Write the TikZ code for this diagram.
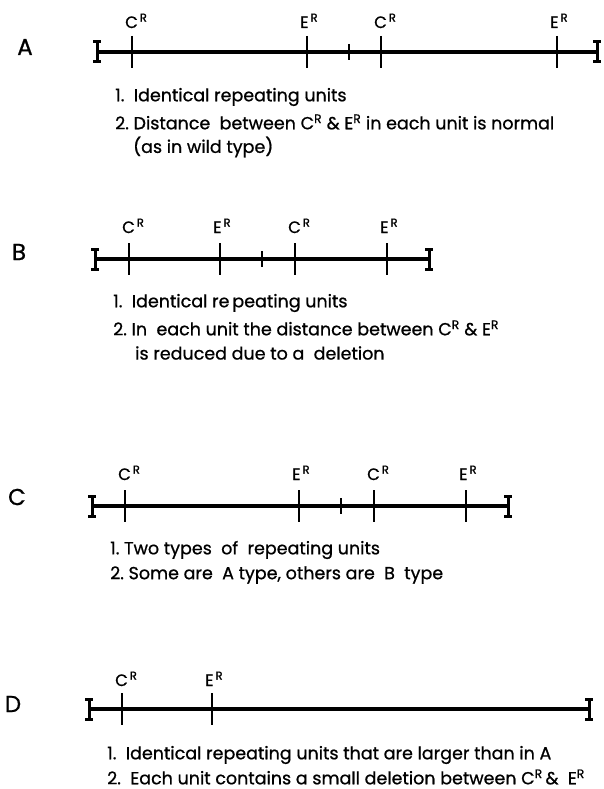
\documentclass[tikz,border=0pt]{standalone}
\usepackage{fontspec}
\setmainfont{Poppins}[FakeBold=0.8]
\usepackage{tikz}
\usetikzlibrary{calc}
\tikzset{
  chrom/.style={line width=3.4pt},
  tickln/.style={line width=2.8pt},
  endln/.style={line width=3pt},
  rowlbl/.style={font=\fontsize{23}{26}\selectfont},
  sitelbl/.style={font=\fontsize{16.5}{19}\selectfont, anchor=base west, inner sep=0pt},
  note/.style={font=\fontsize{17.5}{21}\selectfont, anchor=west, inner sep=0pt},
}
\newcommand{\supR}{\textsuperscript{\,R}}
% I-shaped end of a chromosome line
\newcommand{\capI}[1]{%
  \draw[endln] ($(#1)+(0,-10)$) -- ($(#1)+(0,10)$);
  \draw[endln] ($(#1)+(-4,-10)$) -- ($(#1)+(4,-10)$) ($(#1)+(-4,10)$) -- ($(#1)+(4,10)$);}

\begin{document}
\begin{tikzpicture}[x=1pt,y=-1pt]
\useasboundingbox (0,0) rectangle (604,789);
% (A) normal units
\node[rowlbl] (rowA) at (25,47) {A};
\coordinate (A-l) at (97,52);
\coordinate (A-r) at (597,52);
\draw[chrom] (A-l) -- (A-r);
\capI{A-l} \capI{A-r}
\foreach \x/\t in {132/C,307/E,381/C,557/E} {
  \draw[tickln] (\x,36) -- (\x,68);
  \node[sitelbl] at (\x-7,28) {\t\supR};
}
\draw[tickln] (349,44) -- (349,60);
\node[note] (A1) at (115,97) {1.\ \ Identical repeating units};
\node[note] (A2) at (115,122) {2.\ Distance \ between C\textsuperscript{R} \& E\textsuperscript{R} in each unit is normal};
\node[note] (A3) at (133,147) {(as in wild type)};
% (B) units with a deletion
\node[rowlbl] (rowB) at (19,252) {B};
\coordinate (B-l) at (95,259);
\coordinate (B-r) at (429,259);
\draw[chrom] (B-l) -- (B-r);
\capI{B-l} \capI{B-r}
\foreach \x/\t in {129/C,220/E,295/C,387/E} {
  \draw[tickln] (\x,243) -- (\x,275);
  \node[sitelbl] at (\x-7,233) {\t\supR};
}
\draw[tickln] (262,251) -- (262,267);
\node[note] (B1) at (113,303) {1.\ \ Identical re\,peating units};
\node[note] (B2) at (113,328) {2.\ In \ each unit the distance between C\textsuperscript{R} \& E\textsuperscript{R}};
\node[note] (B3) at (135,353) {is reduced due to a \ deletion};
% (C) two kinds of units
\node[rowlbl] (rowC) at (17,497) {C};
\coordinate (C-l) at (92,506);
\coordinate (C-r) at (508,506);
\draw[chrom] (C-l) -- (C-r);
\capI{C-l} \capI{C-r}
\foreach \x/\t in {125/C,299/E,374/C,466/E} {
  \draw[tickln] (\x,490) -- (\x,522);
  \node[sitelbl] at (\x-7,480) {\t\supR};
}
\draw[tickln] (341,498) -- (341,514);
\node[note] (C1) at (110,550) {1.\ Two types \ of \ repeating units};
\node[note] (C2) at (110,575) {2.\ Some are \ A type, others are \ B \ type};
% (D) larger units
\node[rowlbl] (rowD) at (13,704) {D};
\coordinate (D-l) at (89,709);
\coordinate (D-r) at (589,709);
\draw[chrom] (D-l) -- (D-r);
\capI{D-l} \capI{D-r}
\foreach \x/\t in {122/C,212/E} {
  \draw[tickln] (\x,693) -- (\x,725);
  \node[sitelbl] at (\x-7,686) {\t\supR};
}
\node[note] (D1) at (107,755) {1.\ \ Identical repeating units that are larger than in A};
\node[note] (D2) at (107,777) {2.\ \ Each unit contains a small deletion between C\textsuperscript{R}\,\& \ E\textsuperscript{R}};
\end{tikzpicture}
\end{document}
